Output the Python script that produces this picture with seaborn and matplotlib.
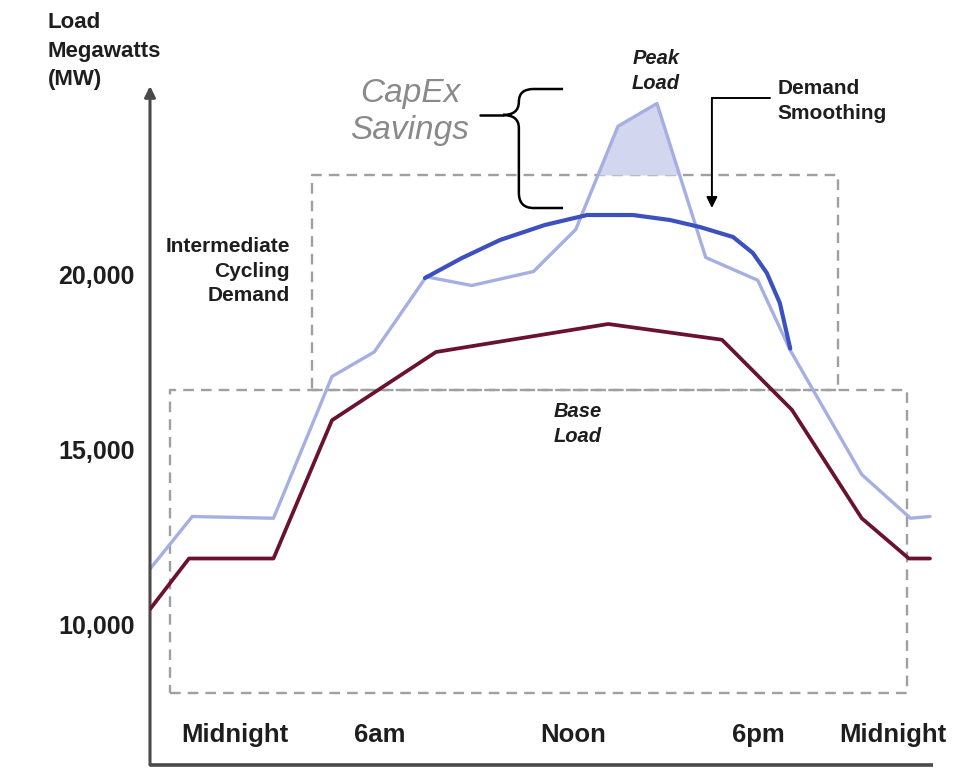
import matplotlib
matplotlib.use("Agg")
import matplotlib.pyplot as plt
import seaborn as sns
import pandas as pd
from matplotlib.path import Path
from matplotlib.patches import PathPatch

# ---------------- data ----------------
hours_peak = [0, 1.3, 3.8, 5.6, 6.9, 8.5, 9.9, 11.8, 13.1, 14.4, 15.6, 17.1, 18.7, 19.7, 21.9, 23.4, 24.0]
load_peak = [11600, 13100, 13050, 17100, 17800, 19950, 19700, 20100, 21300, 24250, 24900,
             20500, 19850, 17850, 14300, 13050, 13100]

hours_base = [0, 1.2, 3.8, 5.6, 8.8, 14.1, 17.6, 19.75, 21.9, 23.35, 24.0]
load_base = [10450, 11900, 11900, 15850, 17800, 18600, 18150, 16150, 13050, 11900, 11900]

hours_smooth = [8.46, 9.6, 10.77, 12.15, 13.45, 14.86, 16.0, 16.92, 17.94, 18.55, 18.98, 19.38, 19.7]
load_smooth = [19914, 20486, 21000, 21429, 21714, 21714, 21571, 21371, 21086, 20629, 20057, 19200, 17900]

ytick_values = [10000, 15000, 20000]
ytick_labels = ["10,000", "15,000", "20,000"]
xtick_hours = [2.62, 7.08, 13.02, 18.71, 22.86]
xtick_labels = ["Midnight", "6am", "Noon", "6pm", "Midnight"]

intermediate_box = (4.98, 21.17, 16714, 22857)   # x0, x1, y0, y1
base_box = (0.62, 23.3, 8057, 16714)

# ---------------- style ----------------
sns.set_theme(style="white")
plt.rcParams["font.family"] = ["Liberation Sans", "DejaVu Sans"]

LIGHT = "#a6afe2"
DARK_BLUE = "#3c50c0"
MAROON = "#6a1232"
BOX = "#a0a0a0"
AXIS = "#4a4a4a"
TXT = "#1e1e1e"

fig = plt.figure(figsize=(9.55, 7.7), dpi=100)
ax = fig.add_axes([150 / 955, 5 / 770, 805 / 955, 765 / 770])
ax.set_xlim(0, 24.77)
ax.set_ylim(6000, 27857)
for s in ax.spines.values():
    s.set_visible(False)
ax.set_facecolor("white")

# dashed boxes
for (x0, x1, y0, y1) in (intermediate_box, base_box):
    ax.plot([x0, x1, x1, x0, x0], [y0, y0, y1, y1, y0], color=BOX, lw=1.7,
            dashes=(4.5, 3), zorder=1)

# shaded peak above intermediate box top
df_peak = pd.DataFrame({"hour": hours_peak, "load": load_peak})
top = intermediate_box[3]
ax.fill_between(df_peak["hour"], df_peak["load"], top,
                where=df_peak["load"] > top, interpolate=True,
                color="#d3d6ef", lw=0, zorder=2)

# lines
sns.lineplot(data=df_peak, x="hour", y="load", ax=ax, color=LIGHT, lw=2.4,
             sort=False, estimator=None, zorder=3)
df_base = pd.DataFrame({"hour": hours_base, "load": load_base})
sns.lineplot(data=df_base, x="hour", y="load", ax=ax, color=MAROON, lw=2.7,
             sort=False, estimator=None, zorder=4)
df_smooth = pd.DataFrame({"hour": hours_smooth, "load": load_smooth})
sns.lineplot(data=df_smooth, x="hour", y="load", ax=ax, color=DARK_BLUE, lw=3.0,
             sort=False, estimator=None, zorder=5)
for ln in ax.lines:
    ln.set_solid_joinstyle("round")
    ln.set_solid_capstyle("round")

# axes lines
ax.annotate("", xy=(0, 25400), xytext=(0, 6000), annotation_clip=False,
            arrowprops=dict(arrowstyle="-|>", color=AXIS, lw=2.2, mutation_scale=16,
                            shrinkA=0, shrinkB=0))
ax.plot([0, 24.1], [6000, 6000], color=AXIS, lw=2.6, clip_on=False, solid_capstyle="butt")

ax.set_xlabel("")
ax.set_ylabel("")
ax.set_xticks([])
ax.set_yticks(ytick_values)
ax.set_yticklabels(ytick_labels, fontsize=18, fontweight="bold", color=TXT)
ax.tick_params(axis="y", length=0, pad=11)

for h, lab in zip(xtick_hours, xtick_labels):
    ax.text(h, 6857, lab, ha="center", va="center", fontsize=18.5, fontweight="bold", color=TXT)

# texts
ax.text(-3.14, 27500, "Load\nMegawatts\n(MW)", ha="left", va="top", fontsize=16,
        fontweight="bold", color=TXT, linespacing=1.45)
ax.text(4.31, 20114, "Intermediate\nCycling\nDemand", ha="right", va="center",
        multialignment="right", fontsize=15, fontweight="bold", color=TXT, linespacing=1.38)
ax.text(8.0, 24657, "CapEx\nSavings", ha="center", va="center", fontsize=24,
        style="italic", color="#8a8a8a", linespacing=1.25)
ax.text(15.57, 25829, "Peak\nLoad", ha="center", va="center", fontsize=14.5,
        fontweight="bold", style="italic", color=TXT, linespacing=1.45)
ax.text(19.32, 24971, "Demand\nSmoothing", ha="left", va="center", fontsize=15,
        fontweight="bold", color=TXT, linespacing=1.4)
ax.text(13.17, 15743, "Base\nLoad", ha="center", va="center", fontsize=14.5,
        fontweight="bold", style="italic", color=TXT, linespacing=1.4)

# demand smoothing pointer
ax.plot([19.08, 17.29], [25057, 25057], color="black", lw=1.4)
ax.annotate("", xy=(17.29, 21914), xytext=(17.29, 25057),
            arrowprops=dict(arrowstyle="-|>", color="black", lw=1.4, mutation_scale=16,
                            shrinkA=0, shrinkB=0))

# curly brace
verts = [(12.71, 25314), (11.8, 25314), (11.35, 25314), (11.35, 24950),
         (11.35, 24571), (10.86, 24571),
         (11.35, 24571), (11.35, 24200),
         (11.35, 22350), (11.35, 21914), (11.8, 21914), (12.71, 21914)]
codes = [Path.MOVETO, Path.LINETO, Path.CURVE3, Path.CURVE3,
         Path.CURVE3, Path.CURVE3,
         Path.CURVE3, Path.CURVE3,
         Path.LINETO, Path.CURVE3, Path.CURVE3, Path.LINETO]
ax.add_patch(PathPatch(Path(verts, codes), fill=False, edgecolor="black", lw=1.8))
ax.plot([10.15, 10.86], [24571, 24571], color="black", lw=1.8)

fig.savefig("out.png", dpi=100, facecolor="white")
